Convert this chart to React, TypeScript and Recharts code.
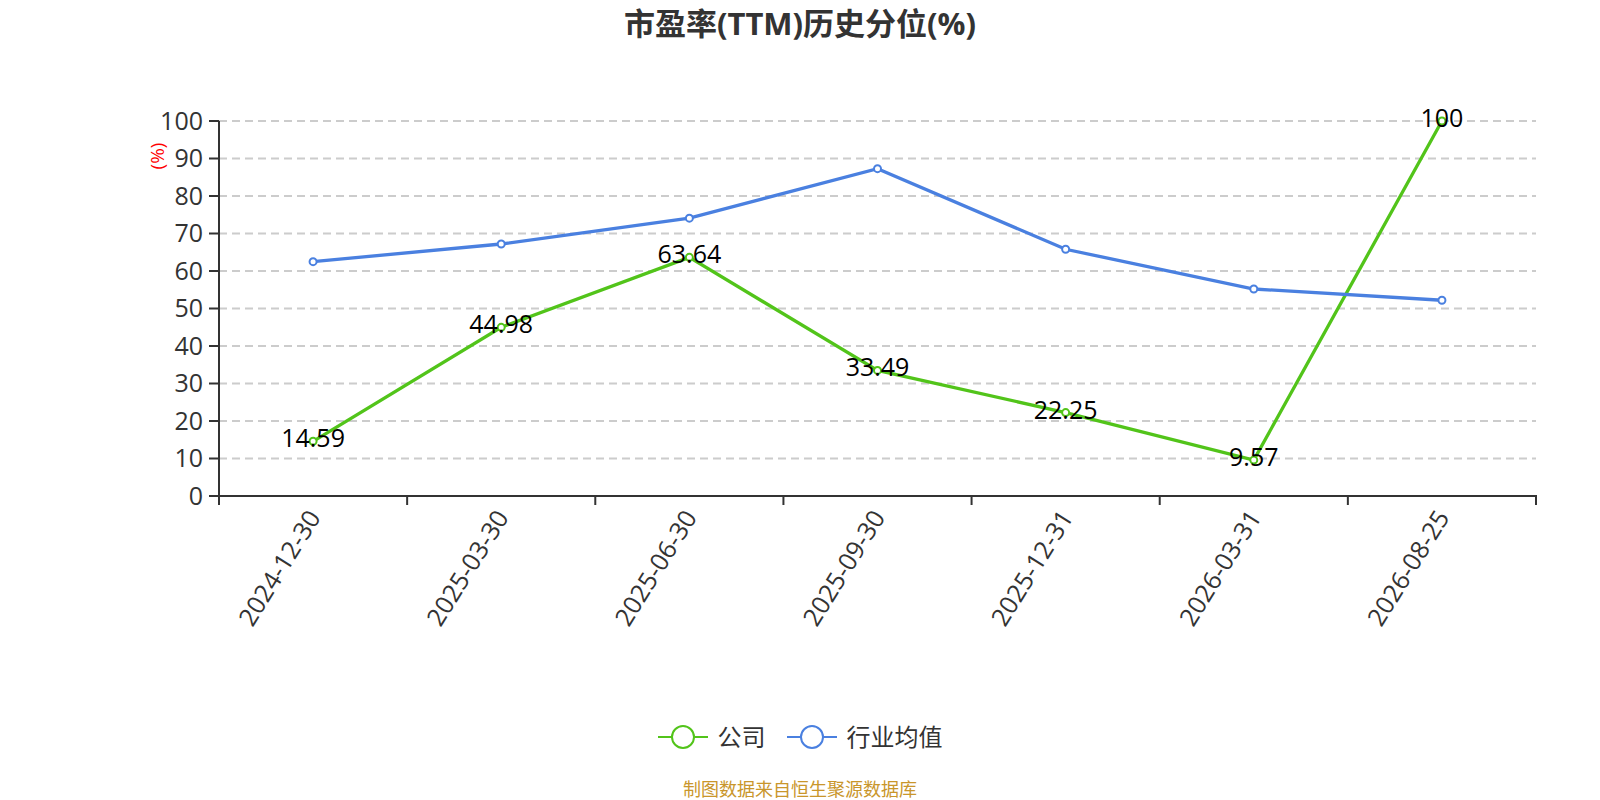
import React from 'react';
import { LineChart, Line, XAxis, YAxis, CartesianGrid, Legend, LabelList } from 'recharts';

const categories = ['2024-12-30', '2025-03-30', '2025-06-30', '2025-09-30', '2025-12-31', '2026-03-31', '2026-08-25'];
const companyValues = [14.59, 44.98, 63.64, 33.49, 22.25, 9.57, 100];
const industryValues = [62.5, 67.2, 74.1, 87.3, 65.8, 55.2, 52.2];
const yTicks = [0, 10, 20, 30, 40, 50, 60, 70, 80, 90, 100];
const seriesNames = ['公司', '行业均值'];
const titleText = '市盈率(TTM)历史分位(%)';
const footerText = '制图数据来自恒生聚源数据库';

const GREEN = '#52C41A';
const BLUE = '#4A80E0';
const FONT = "'Open Sans', 'Noto Sans CJK SC', sans-serif";

const W = 1600;
const H = 800;
const PLOT_LEFT = 219;
const PLOT_RIGHT = 1536;
const PLOT_TOP = 121;
const PLOT_BOTTOM = 496;
const BAND = (PLOT_RIGHT - PLOT_LEFT) / categories.length;

const data = categories.map((c, i) => ({
  date: c,
  company: companyValues[i],
  industry: industryValues[i],
}));

const XTick = (props: any) => {
  const { x, y, payload, index } = props;
  const left = x - BAND / 2;
  return (
    <g>
      <line x1={left} y1={y - 9} x2={left} y2={y + 1} stroke="#333" strokeWidth={2} />
      {index === categories.length - 1 && (
        <line x1={x + BAND / 2} y1={y - 9} x2={x + BAND / 2} y2={y + 1} stroke="#333" strokeWidth={2} />
      )}
      <text
        x={x}
        y={y + 8}
        textAnchor="end"
        dominantBaseline="central"
        transform={`rotate(-58, ${x}, ${y + 8})`}
        fontSize={25}
        fill="#333"
        fontFamily={FONT}
      >
        {payload.value}
      </text>
    </g>
  );
};

const PointLabel = (props: any) => {
  const { x, y, value } = props;
  return (
    <text x={x} y={y - 4} textAnchor="middle" dominantBaseline="central" fontSize={25} fill="#000" fontFamily={FONT}>
      {value}
    </text>
  );
};

const LegendContent = () => {
  const items = [
    { name: seriesNames[0], color: GREEN },
    { name: seriesNames[1], color: BLUE },
  ];
  return (
    <div style={{ display: 'flex', justifyContent: 'center', alignItems: 'center', gap: 21, fontFamily: FONT, height: 26 }}>
      {items.map((it) => (
        <div key={it.name} style={{ display: 'flex', alignItems: 'center', gap: 10 }}>
          <svg width={50} height={26}>
            <line x1={0} y1={13} x2={50} y2={13} stroke={it.color} strokeWidth={2} />
            <circle cx={25} cy={13} r={11} fill="#fff" stroke={it.color} strokeWidth={2} />
          </svg>
          <span style={{ fontSize: 24, color: '#333', lineHeight: '26px' }}>{it.name}</span>
        </div>
      ))}
    </div>
  );
};

export default function App() {
  return (
    <div style={{ position: 'relative', width: W, height: H, background: '#fff', fontFamily: FONT }}>
      <style>{'body{margin:0;}'}</style>
      <div
        style={{
          position: 'absolute',
          top: 5,
          left: 0,
          width: W,
          height: 36,
          lineHeight: '36px',
          textAlign: 'center',
          fontSize: 31,
          fontWeight: 'bold',
          color: '#333',
          fontFamily: FONT,
        }}
      >
        {titleText}
      </div>
      <LineChart
        width={W}
        height={H}
        data={data}
        margin={{ top: PLOT_TOP, right: W - PLOT_RIGHT, bottom: H - PLOT_BOTTOM - 140, left: PLOT_LEFT - 60 }}
      >
        <CartesianGrid horizontal vertical={false} stroke="#ccc" strokeWidth={1.8} strokeDasharray="8 5" />
        <XAxis
          dataKey="date"
          scale="band"
          height={140}
          interval={0}
          tickLine={false}
          axisLine={{ stroke: '#333', strokeWidth: 2 }}
          tick={<XTick />}
        />
        <YAxis
          width={60}
          domain={[0, 100]}
          ticks={yTicks}
          interval={0}
          tickSize={10}
          tickMargin={6}
          axisLine={{ stroke: '#333', strokeWidth: 2 }}
          tickLine={{ stroke: '#333', strokeWidth: 2 }}
          tick={{ fontSize: 25, fill: '#333', fontFamily: FONT }}
          label={() => (
            <text
              x={157}
              y={156}
              textAnchor="middle"
              dominantBaseline="central"
              transform="rotate(-90, 157, 156)"
              fontSize={19}
              fill="#f00"
              fontFamily={FONT}
            >
              (%)
            </text>
          )}
        />
        <Legend
          verticalAlign="middle"
          content={<LegendContent />}
          wrapperStyle={{ position: 'absolute', top: 724, left: 0, width: W }}
        />
        <Line
          type="linear"
          dataKey="company"
          name={seriesNames[0]}
          stroke={GREEN}
          strokeWidth={3.3}
          dot={{ r: 3.5, fill: '#fff', stroke: GREEN, strokeWidth: 2 }}
          isAnimationActive={false}
        >
          <LabelList dataKey="company" content={<PointLabel />} />
        </Line>
        <Line
          type="linear"
          dataKey="industry"
          name={seriesNames[1]}
          stroke={BLUE}
          strokeWidth={3.3}
          dot={{ r: 3.5, fill: '#fff', stroke: BLUE, strokeWidth: 2 }}
          isAnimationActive={false}
        />
      </LineChart>
      <div
        style={{
          position: 'absolute',
          top: 778,
          left: 0,
          width: W,
          height: 22,
          lineHeight: '22px',
          textAlign: 'center',
          fontSize: 18,
          color: '#C9962B',
          fontFamily: FONT,
        }}
      >
        {footerText}
      </div>
    </div>
  );
}
